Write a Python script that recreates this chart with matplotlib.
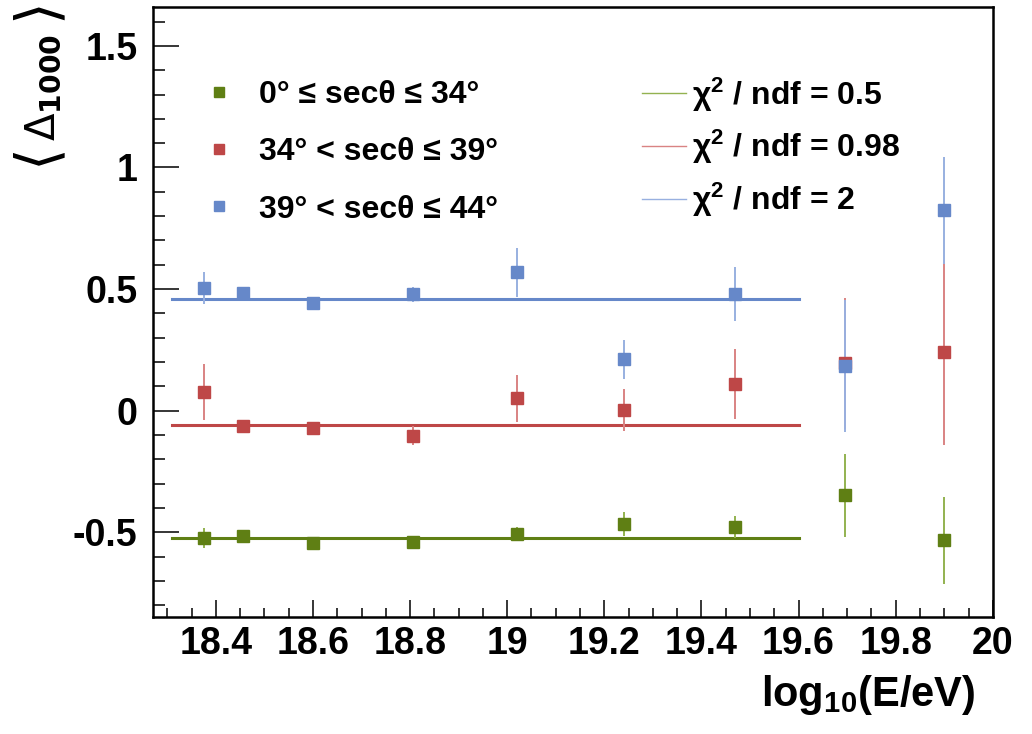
#!/usr/bin/env python3
# <Delta_1000> vs energy for three zenith bins, with flat fits

import matplotlib
matplotlib.use('Agg')
import matplotlib.pyplot as plt
from matplotlib.lines import Line2D
from matplotlib.ticker import MultipleLocator, FuncFormatter

plt.rcParams['font.family'] = ['Liberation Sans', 'DejaVu Sans']
plt.rcParams['mathtext.fontset'] = 'custom'
plt.rcParams['mathtext.rm'] = 'Liberation Sans:bold'
plt.rcParams['mathtext.it'] = 'Liberation Sans:bold'
plt.rcParams['mathtext.bf'] = 'Liberation Sans:bold'

# log10(E/eV) bin centres
log_e = [18.375, 18.455, 18.6, 18.805, 19.02, 19.24, 19.47, 19.695, 19.9]

green = [-0.524, -0.517, -0.545, -0.541, -0.508, -0.466, -0.477, -0.348, -0.534]
green_err = [0.04, 0.012, 0.012, 0.012, 0.03, 0.05, 0.045, 0.17, 0.18]
red = [0.078, -0.063, -0.072, -0.103, 0.051, 0.003, 0.108, 0.195, 0.24]
red_err = [0.115, 0.012, 0.012, 0.04, 0.096, 0.085, 0.144, 0.27, 0.38]
blue = [0.503, 0.482, 0.444, 0.478, 0.569, 0.211, 0.479, 0.184, 0.825]
blue_err = [0.065, 0.012, 0.012, 0.03, 0.10, 0.08, 0.11, 0.27, 0.22]

# constant fits over the fitted range
fit_range = [18.31, 19.6]
fit_green = -0.522
fit_red = -0.059
fit_blue = 0.459

bin_labels = ['0° ≤ secθ ≤ 34°', '34° < secθ ≤ 39°', '39° < secθ ≤ 44°']
fit_labels = ['χ$^{2}$ / ndf = 0.5', 'χ$^{2}$ / ndf = 0.98', 'χ$^{2}$ / ndf = 2']

# marker colour, error bar colour
c_green, e_green = '#5f7f14', '#93b250'
c_red, e_red = '#be4747', '#d98383'
c_blue, e_blue = '#6688c9', '#98b0e0'

W, H = 1032, 734
fig = plt.figure(figsize=(W / 100, H / 100), dpi=100)
ax = fig.add_axes([0.148, 0.159, 0.814, 0.8315])

series = [(green, green_err, fit_green, c_green, e_green),
          (red, red_err, fit_red, c_red, e_red),
          (blue, blue_err, fit_blue, c_blue, e_blue)]

for vals, errs, fit, col, ecol in series:
    ax.plot(fit_range, [fit, fit], color=col, lw=2.2, zorder=2)
    ax.errorbar(log_e, vals, yerr=errs, fmt='s', color=col, ecolor=ecol, ms=8,
                elinewidth=1.4, capsize=0, zorder=3)

ax.set_xlim(18.27, 20.0)
ax.set_ylim(-0.85, 1.66)

ax.xaxis.set_major_locator(MultipleLocator(0.2))
ax.xaxis.set_minor_locator(MultipleLocator(0.05))
ax.yaxis.set_major_locator(MultipleLocator(0.5))
ax.yaxis.set_minor_locator(MultipleLocator(0.1))
fmt = FuncFormatter(lambda v, p: '%g' % round(v, 2))
ax.xaxis.set_major_formatter(fmt)
ax.yaxis.set_major_formatter(fmt)

ax.tick_params(axis='both', which='both', direction='in', width=1.1,
               top=False, right=False, labelsize=27)
ax.tick_params(axis='y', which='major', length=18.5, pad=11)
ax.tick_params(axis='y', which='minor', length=8.5)
ax.tick_params(axis='x', which='major', length=12.5, pad=6)
ax.tick_params(axis='x', which='minor', length=6.5)
for lab in ax.get_xticklabels() + ax.get_yticklabels():
    lab.set_fontweight('bold')
for sp in ax.spines.values():
    sp.set_linewidth(1.8)

# legends
h1 = [Line2D([], [], ls='none', marker='s', ms=7, color=c) for c in (c_green, c_red, c_blue)]
leg1 = ax.legend(h1, bin_labels, loc='upper left', bbox_to_anchor=(0.047, 0.88),
                 frameon=False, prop={'size': 23, 'weight': 'bold'},
                 handlelength=1.7, handletextpad=0.4,
                 labelspacing=0.85, borderpad=0, borderaxespad=0)
ax.add_artist(leg1)
h2 = [Line2D([], [], color=c, lw=1.0) for c in (e_green, e_red, e_blue)]
ax.legend(h2, fit_labels, loc='upper left', bbox_to_anchor=(0.583, 0.888),
          frameon=False, prop={'size': 23, 'weight': 'bold'},
          handlelength=1.35, handletextpad=0.2,
          labelspacing=0.45, borderpad=0, borderaxespad=0)

# axis titles, ROOT style (right / top aligned)
fig.text(975 / W, (H - 706) / H, 'log$_{10}$(E/eV)', fontsize=30,
         fontweight='bold', ha='right', va='baseline')

# y title: <Delta_1000> built from pieces so the brackets come out tall
fig.text(43 / W, 1 - 161 / H, r'$\langle$', fontsize=42, rotation=90,
         ha='center', va='center', math_fontfamily='dejavusans')
fig.text(23 / W, 1 - 141 / H, r'$\Delta_{\mathbf{1000}}$', fontsize=29, rotation=90,
         ha='left', va='bottom', math_fontfamily='dejavusans')
fig.text(43 / W, 1 - 15 / H, r'$\rangle$', fontsize=42, rotation=90,
         ha='center', va='center', math_fontfamily='dejavusans')

fig.savefig('out.png', dpi=100)
